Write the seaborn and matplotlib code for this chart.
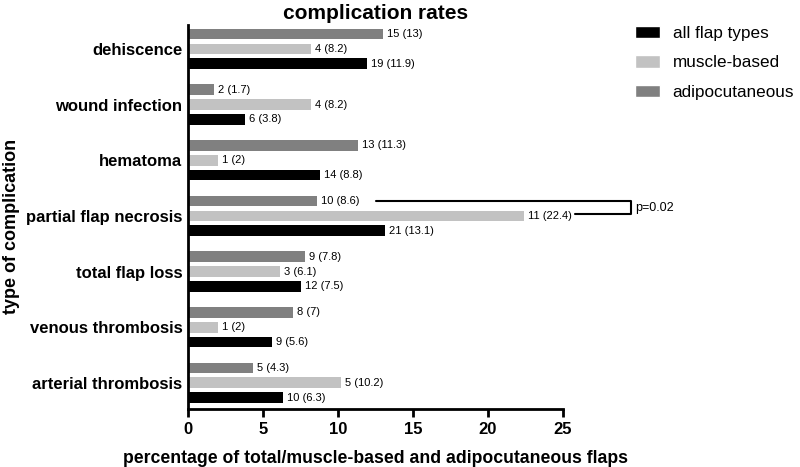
import pandas as pd
import matplotlib
matplotlib.use('Agg')
import matplotlib.pyplot as plt
import seaborn as sns
from matplotlib.patches import Patch

categories = ['dehiscence', 'wound infection', 'hematoma', 'partial flap necrosis',
              'total flap loss', 'venous thrombosis', 'arterial thrombosis']
series = ['adipocutaneous', 'muscle-based', 'all flap types']

adipo_n = [15, 2, 13, 10, 9, 8, 5]
adipo_pct = [13, 1.7, 11.3, 8.6, 7.8, 7, 4.3]
muscle_n = [4, 4, 1, 11, 3, 1, 5]
muscle_pct = [8.2, 8.2, 2, 22.4, 6.1, 2, 10.2]
all_n = [19, 6, 14, 21, 12, 9, 10]
all_pct = [11.9, 3.8, 8.8, 13.1, 7.5, 5.6, 6.3]

colors = {'all flap types': '#000000', 'muscle-based': '#c2c2c2', 'adipocutaneous': '#808080'}

# long-form table for seaborn
rows = []
for name, ns, ps in [('adipocutaneous', adipo_n, adipo_pct),
                     ('muscle-based', muscle_n, muscle_pct),
                     ('all flap types', all_n, all_pct)]:
    for c, n, p in zip(categories, ns, ps):
        rows.append({'category': c, 'series': name, 'n': n, 'pct': p})
df = pd.DataFrame(rows)

sns.set_style('white')
plt.rcParams['font.family'] = ['Liberation Sans', 'DejaVu Sans']
for k in ['text.color', 'axes.labelcolor', 'xtick.color', 'ytick.color']:
    plt.rcParams[k] = 'black'

fig = plt.figure(figsize=(8, 4.67), dpi=100)
ax = fig.add_axes([0.235, 0.1242, 0.4688, 0.8223])

sns.barplot(data=df, y='category', x='pct', hue='series', hue_order=series,
            order=categories, palette=colors, orient='h', width=0.8, gap=0.28,
            linewidth=0, errorbar=None, legend=False, ax=ax)

# value labels "n (pct)"
for cont, name in zip(ax.containers, series):
    sub = df[df['series'] == name].set_index('category').loc[categories]
    labels = [f"{n} ({p:g})" for n, p in zip(sub['n'], sub['pct'])]
    ax.bar_label(cont, labels=labels, padding=3, fontsize=8)

ax.set_xlim(0, 25)
ax.set_ylim(6.47, -0.43)
ax.set_xticks([0, 5, 10, 15, 20, 25])
for s in ['top', 'right']:
    ax.spines[s].set_visible(False)
for s in ['left', 'bottom']:
    ax.spines[s].set_linewidth(2)
    ax.spines[s].set_color('black')
ax.tick_params(axis='x', direction='out', length=6, width=2, bottom=True, labelsize=12)
ax.tick_params(axis='y', length=0, labelsize=12, pad=4)
for t in ax.get_xticklabels() + ax.get_yticklabels():
    t.set_fontweight('bold')

ax.set_title('complication rates', fontsize=15, fontweight='bold', pad=4)
ax.set_xlabel('percentage of total/muscle-based and adipocutaneous flaps', fontsize=12.7,
              fontweight='bold', labelpad=9)
ax.set_ylabel('type of complication', fontsize=13, fontweight='bold')
ax.yaxis.set_label_coords(-0.448, 0.475)

# significance bracket between adipocutaneous and muscle-based bars
i = categories.index('partial flap necrosis')
off = 0.8 / 3
ax.plot([12.5, 29.5, 29.5, 25.8], [i - off, i - off, i - 0.1 * off, i - 0.1 * off],
        color='black', lw=1.5, clip_on=False)
ax.text(29.8, i - 0.55 * off, 'p=0.02', fontsize=9, va='center', ha='left')

handles = [Patch(facecolor=colors[s]) for s in ['all flap types', 'muscle-based', 'adipocutaneous']]
fig.legend(handles, ['all flap types', 'muscle-based', 'adipocutaneous'],
           loc='upper left', bbox_to_anchor=(0.7745, 0.978), frameon=False, fontsize=12.3,
           handlelength=1.45, handleheight=0.75, labelspacing=0.84, handletextpad=0.75)

fig.savefig('out.png', dpi=100)
